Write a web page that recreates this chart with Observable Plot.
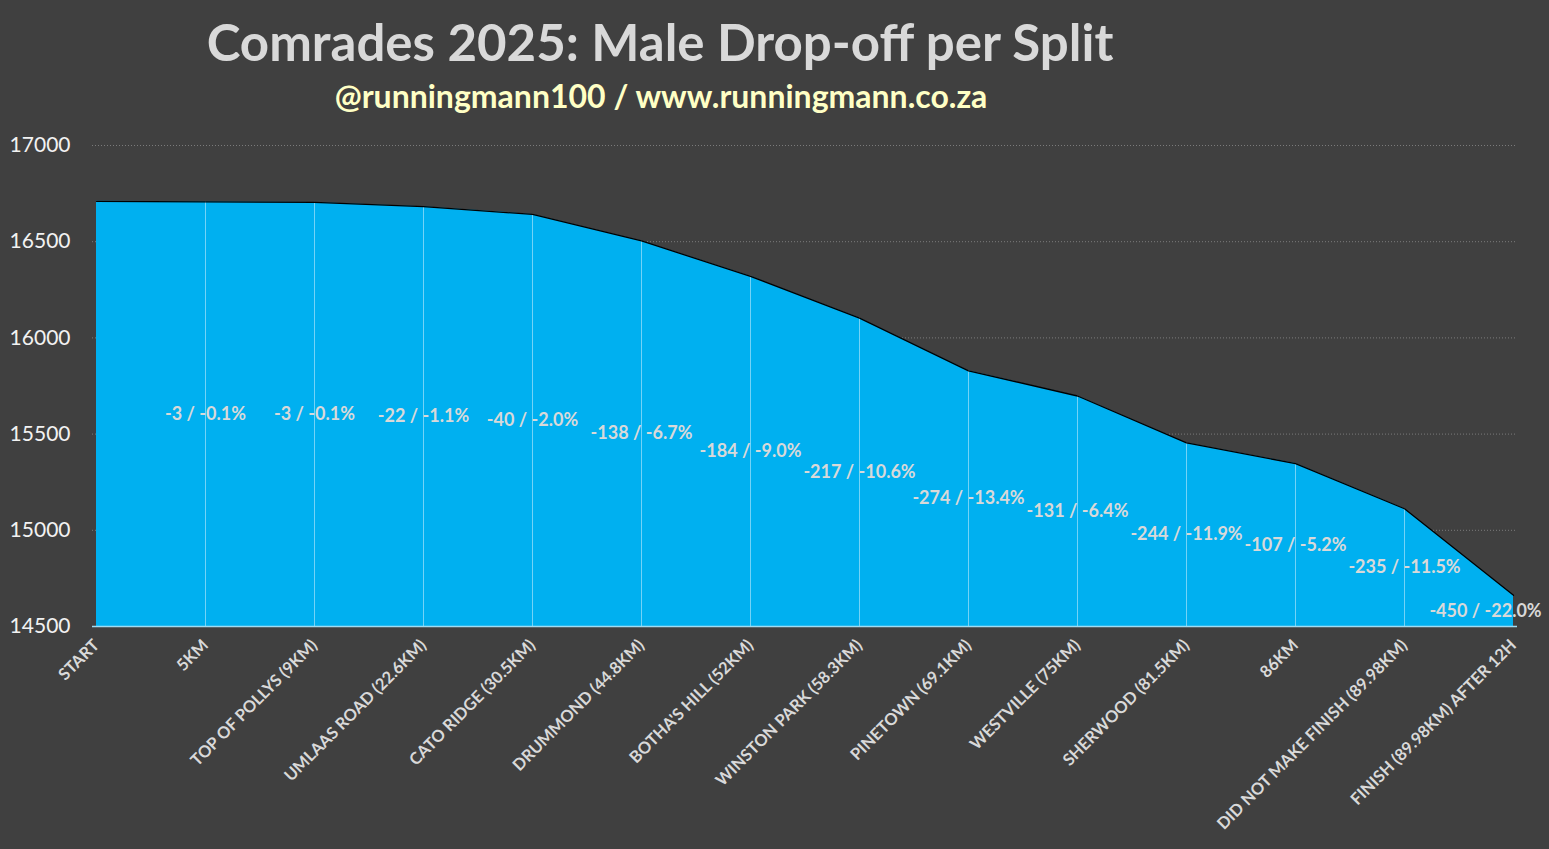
<!DOCTYPE html>
<html>
<head>
<meta charset="utf-8">
<script src="https://cdn.jsdelivr.net/npm/d3@7"></script>
<script src="https://cdn.jsdelivr.net/npm/@observablehq/plot@0.6"></script>
<style>
  html, body { margin: 0; padding: 0; background: #404040; }
  body { width: 1549px; height: 849px; position: relative; overflow: hidden; font-family: Lato, "Open Sans", sans-serif; }
  #title { position: absolute; left: 0; width: 1320px; top: 10px; text-align: center; color: #D9D9D9; font-weight: bold; font-size: 51px; line-height: 64px; }
  #subtitle { position: absolute; left: 0; width: 1322px; top: 76px; text-align: center; color: #FFFFC5; font-weight: bold; font-size: 32px; line-height: 40px; }
  #chart { position: absolute; left: 0; top: 0; }
</style>
</head>
<body>
<div id="chart"></div>
<div id="title">Comrades 2025: Male Drop-off per Split</div>
<div id="subtitle">@runningmann100 / www.runningmann.co.za</div>
<script>
const splits = ["START", "5KM", "TOP OF POLLYS (9KM)", "UMLAAS ROAD (22.6KM)", "CATO RIDGE (30.5KM)", "DRUMMOND (44.8KM)", "BOTHA'S HILL (52KM)", "WINSTON PARK (58.3KM)", "PINETOWN (69.1KM)", "WESTVILLE (75KM)", "SHERWOOD (81.5KM)", "86KM", "DID NOT MAKE FINISH (89.98KM)", "FINISH (89.98KM) AFTER 12H"];
const runners = [16710, 16707, 16704, 16682, 16642, 16504, 16320, 16103, 15829, 15698, 15454, 15347, 15112, 14662];
const drops = [null, -3, -3, -22, -40, -138, -184, -217, -274, -131, -244, -107, -235, -450];
const dropPct = [null, -0.1, -0.1, -1.1, -2.0, -6.7, -9.0, -10.6, -13.4, -6.4, -11.9, -5.2, -11.5, -22.0];
const yTicks = [14500, 15000, 15500, 16000, 16500, 17000];

const data = splits.map((s, i) => ({split: s, value: runners[i], drop: drops[i], pct: dropPct[i]}));
const labelled = data.filter(d => d.drop !== null);
const yMin = 14500;

const labelOpts = {
  x: "split",
  y: d => (d.value + yMin) / 2,
  text: d => `${d.drop} / ${d.pct.toFixed(1)}%`,
  fill: "#D9D9D9",
  fontSize: 18,
  fontWeight: "bold",
  textAnchor: "middle"
};

const chart = Plot.plot({
  width: 1549,
  height: 849,
  marginLeft: 92,
  marginRight: 32,
  marginTop: 145,
  marginBottom: 223,
  style: {background: "transparent", fontFamily: "Lato, 'Open Sans', sans-serif", overflow: "visible"},
  x: {type: "point", domain: splits, padding: 0, label: null},
  y: {domain: [14500, 17000], label: null},
  marks: [
    Plot.ruleY(yTicks.filter(t => t > yMin), {y: d => d, stroke: "#8a8a8a", strokeWidth: 0.8, strokeDasharray: "1,2"}),
    Plot.areaY(data, {x: "split", y1: yMin, y2: "value", fill: "#00B0F0", curve: "linear"}),
    Plot.ruleX(data.slice(1, -1), {x: "split", y1: yMin, y2: "value", stroke: "#ffffff", strokeOpacity: 0.45, strokeWidth: 1}),
    Plot.lineY(data, {x: "split", y: "value", stroke: "#000000", strokeWidth: 1.3}),
    Plot.ruleY([yMin], {stroke: "#9fdcf3", strokeWidth: 1.5}),
    Plot.text(labelled.slice(0, -1), labelOpts),
    Plot.text(labelled.slice(-1), {...labelOpts, dx: -28}),
    Plot.axisY(yTicks, {tickSize: 0, tickPadding: 22, fontSize: 21, color: "#F2F2F2", tickFormat: d3.format("d"), label: null}),
    Plot.axisX(splits, {tickSize: 0, tickPadding: 16, tickRotate: -45, fontSize: 16.5, fontWeight: "bold", color: "#D9D9D9", label: null})
  ]
});
document.getElementById("chart").appendChild(chart);
</script>
</body>
</html>
